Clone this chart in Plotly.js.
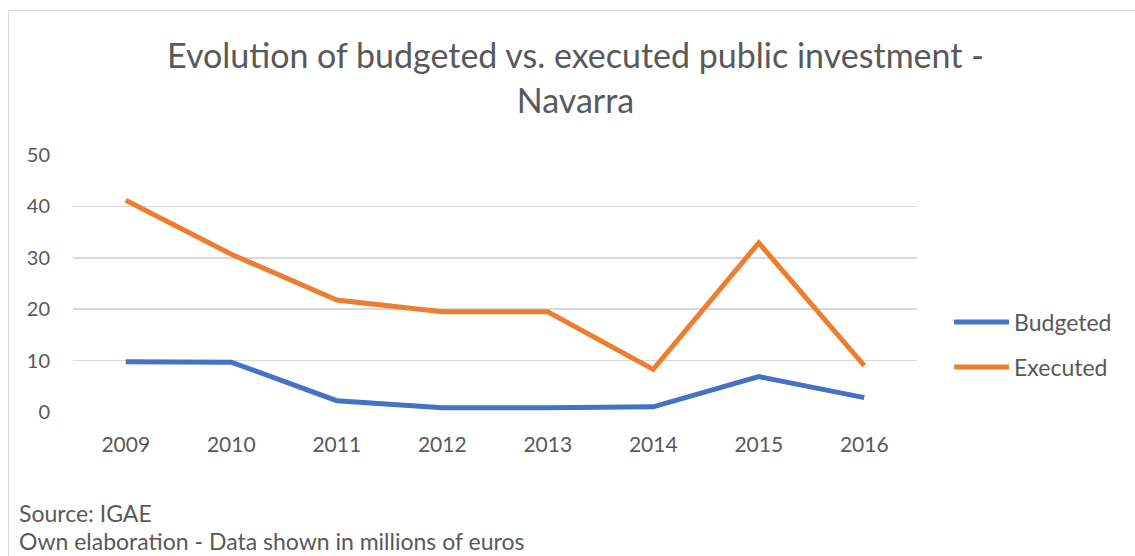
<!DOCTYPE html>
<html>
<head>
<meta charset="utf-8">
<script src="https://cdn.plot.ly/plotly-3.0.1.min.js"></script>
<style>
html,body{margin:0;padding:0;background:#fff;overflow:hidden;}
#frame{position:absolute;left:8px;top:10px;width:1200px;height:600px;border:1.5px solid #d9d9d9;}
#chart{position:absolute;left:0;top:0;width:1135px;height:556px;}
</style>
</head>
<body>
<div id="frame"></div>
<div id="chart"></div>
<script>
const years = ["2009","2010","2011","2012","2013","2014","2015","2016"];
const budgeted = [9.8, 9.7, 2.2, 0.85, 0.85, 1.0, 6.9, 2.8];
const executed = [41.2, 30.7, 21.8, 19.5, 19.5, 8.3, 32.9, 9.0];
const yTicks = [0, 10, 20, 30, 40, 50];

const FONT = "Lato, 'Open Sans', sans-serif";
const GREY = "#595959";

const traces = [
  {x: years, y: budgeted, name: "Budgeted", type: "scatter", mode: "lines",
   line: {color: "#4472C4", width: 5}, cliponaxis: false, legend: "legend"},
  {x: years, y: executed, name: "Executed", type: "scatter", mode: "lines",
   line: {color: "#ED7D31", width: 5}, cliponaxis: false, legend: "legend2"}
];

const legendBase = {xanchor: "left", yanchor: "middle",
  font: {size: 23, color: GREY, family: FONT}, bgcolor: "rgba(0,0,0,0)", itemwidth: 55};

const layout = {
  width: 1135, height: 556,
  paper_bgcolor: "rgba(0,0,0,0)", plot_bgcolor: "rgba(0,0,0,0)",
  margin: {l: 72.5, r: 217.5, t: 155, b: 144, pad: 0},
  font: {family: FONT, color: GREY},
  title: {text: "Evolution of budgeted vs. executed public investment -<br>Navarra",
    font: {family: FONT, size: 34, color: GREY},
    x: 0.507, xanchor: "center", xref: "container",
    y: 0.877, yanchor: "middle", yref: "container"},
  xaxis: {type: "category", range: [-0.5, 7.5], showgrid: false, zeroline: false,
    showline: false, ticks: "", tickfont: {size: 21, color: GREY}, ticklabelstandoff: 18,
    fixedrange: true},
  yaxis: {range: [0, 50], tickvals: yTicks, showgrid: true, gridcolor: "#d9d9d9", gridwidth: 1.5,
    zeroline: false, showline: false, ticks: "", tickfont: {size: 20, color: GREY},
    ticklabelstandoff: 22, fixedrange: true},
  showlegend: true,
  legend: Object.assign({x: 1.038, y: 0.350}, legendBase),
  legend2: Object.assign({x: 1.038, y: 0.175}, legendBase),
  annotations: [
    {text: "Source: IGAE", xref: "paper", yref: "paper", x: -0.066, y: -0.393,
     xanchor: "left", yanchor: "middle", showarrow: false, font: {size: 23, color: GREY, family: FONT}},
    {text: "Own elaboration - Data shown in millions of euros", xref: "paper", yref: "paper", x: -0.066, y: -0.5,
     xanchor: "left", yanchor: "middle", showarrow: false, font: {size: 23, color: GREY, family: FONT}}
  ]
};

Plotly.newPlot("chart", traces, layout, {displayModeBar: false, staticPlot: true});
</script>
</body>
</html>
